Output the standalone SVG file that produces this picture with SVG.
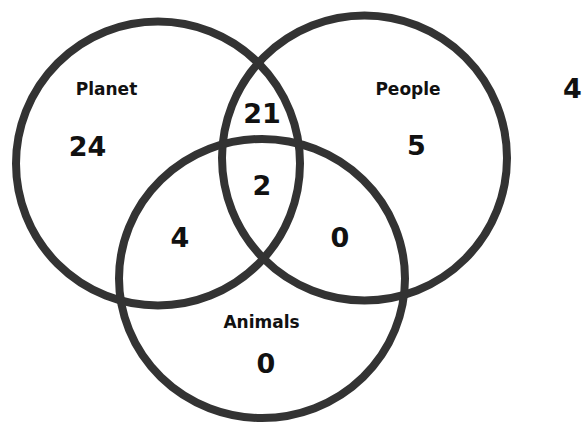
<svg xmlns="http://www.w3.org/2000/svg" width="582" height="423" viewBox="0 0 582 423">
  <style>
    .ring { fill: none; stroke: #333333; stroke-width: 8; }
    .label { font-family: "DejaVu Sans", "Liberation Sans", sans-serif; font-weight: 700; font-size: 17px; fill: #111111; text-anchor: middle; }
    .num { font-family: "DejaVu Sans", "Liberation Sans", sans-serif; font-weight: 700; font-size: 27px; fill: #111111; text-anchor: middle; }
  </style>
  <rect x="0" y="0" width="582" height="423" fill="#ffffff"/>
  <g id="planet">
    <circle class="ring" cx="158" cy="163.5" r="142"/>
    <text class="label" x="106.5" y="95">Planet</text>
    <text class="num" x="87.5" y="156">24</text>
  </g>
  <g id="people">
    <circle class="ring" cx="364.5" cy="158" r="142.5"/>
    <text class="label" x="408" y="95">People</text>
    <text class="num" x="416.5" y="155">5</text>
  </g>
  <g id="animals">
    <ellipse class="ring" cx="262" cy="278.5" rx="143" ry="139.5"/>
    <text class="label" x="261.5" y="328">Animals</text>
    <text class="num" x="266" y="373">0</text>
  </g>
  <g id="planet-people">
    <text class="num" x="262" y="123">21</text>
  </g>
  <g id="all-three">
    <text class="num" x="262" y="195">2</text>
  </g>
  <g id="planet-animals">
    <text class="num" x="180" y="247">4</text>
  </g>
  <g id="people-animals">
    <text class="num" x="340" y="247">0</text>
  </g>
  <g id="outside">
    <text class="num" x="563" y="98" style="text-anchor:start">4</text>
  </g>
  <g id="connectors"/>
</svg>
